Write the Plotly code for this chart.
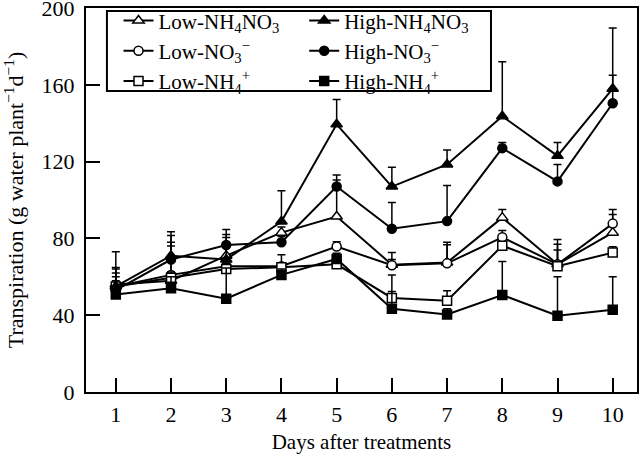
import plotly.graph_objects as go

days = [1, 2, 3, 4, 5, 6, 7, 8, 9, 10]

low_nh4no3 = [56, 58, 71, 83, 91.4, 66.3, 67.4, 90.8, 66.5, 83]
high_nh4no3 = [55, 71, 69, 88.8, 139.4, 107, 118.5, 143.6, 123, 158]
low_no3 = [55, 61, 65.5, 65.5, 75.8, 66, 67, 80.6, 66.5, 87.7]
high_no3 = [53, 69, 76.6, 78, 107, 85, 89, 127, 109.7, 150.4]
low_nh4 = [55, 59.5, 64, 65, 66.5, 49, 47.5, 76.2, 65.5, 72.6]
high_nh4 = [50.8, 54, 48.6, 61, 69.3, 43.3, 40.4, 50.5, 39.7, 42.8]

err_low_nh4no3 = [6, 20, 11, 3, 19, 6.3, 10.6, 4.2, 12.9, 9.4]
err_high_nh4no3 = [9, 12.5, 11.5, 16, 13, 10, 7.5, 28.4, 7, 31.6]
err_low_no3 = [5, 20.5, 4, 6, 2.5, 3, 9.7, 3.5, 10.5, 7.3]
err_high_no3 = [20, 7, 8, 3, 6, 13.7, 18.6, 3, 8.8, 14.6]
err_low_nh4 = [3, 3, 3, 2, 2, 12, 5.2, 2, 8.5, 3.1]
err_high_nh4 = [14, 6, 16, 3, 3, 9, 3, 17.5, 20.3, 17.2]

y_ticks = [0, 40, 80, 120, 160, 200]

names = {
    "low_nh4no3": "Low-NH<sub>4</sub>NO<sub>3</sub>",
    "high_nh4no3": "High-NH<sub>4</sub>NO<sub>3</sub>",
    "low_no3": "Low-NO<sub>3</sub><sup>\u2212</sup>",
    "high_no3": "High-NO<sub>3</sub><sup>\u2212</sup>",
    "low_nh4": "Low-NH<sub>4</sub><sup>+</sup>",
    "high_nh4": "High-NH<sub>4</sub><sup>+</sup>",
}

FONT = "Liberation Serif"

series = [
    ("low_nh4no3", low_nh4no3, err_low_nh4no3, "triangle-up", False, "legend", 10),
    ("low_no3", low_no3, err_low_no3, "circle", False, "legend", 9),
    ("low_nh4", low_nh4, err_low_nh4, "square", False, "legend", 9),
    ("high_nh4no3", high_nh4no3, err_high_nh4no3, "triangle-up", True, "legend2", 10),
    ("high_no3", high_no3, err_high_no3, "circle", True, "legend2", 9),
    ("high_nh4", high_nh4, err_high_nh4, "square", True, "legend2", 9),
]

fig = go.Figure()
for key, vals, errs, sym, filled, leg, size in series:
    fig.add_trace(go.Scatter(
        x=days, y=vals, name=names[key], mode="lines+markers",
        legend=leg,
        line=dict(color="black", width=2),
        marker=dict(symbol=sym, size=size,
                    color="black" if filled else "white",
                    line=dict(color="black", width=1.5)),
        error_y=dict(type="data", array=errs, arrayminus=[0] * len(errs),
                     symmetric=False, color="black", thickness=1.5, width=4),
    ))

fig.add_shape(type="rect", xref="paper", yref="paper",
              x0=0.038, x1=0.735, y0=0.784, y1=0.992,
              line=dict(color="black", width=2), fillcolor="white", layer="below")

legend_common = dict(
    bgcolor="rgba(0,0,0,0)", borderwidth=0, orientation="v",
    font=dict(family=FONT, size=21, color="black"),
    tracegroupgap=0, itemclick=False, yanchor="top", xanchor="left",
)
fig.update_layout(
    legend=dict(x=0.059, y=1.02, **legend_common),
    legend2=dict(x=0.396, y=1.02, **legend_common),
)

fig.update_layout(
    width=640, height=458,
    margin=dict(l=86, r=3, t=8, b=66, autoexpand=False),
    paper_bgcolor="white", plot_bgcolor="white",
    font=dict(family=FONT, size=21, color="black"),
    xaxis=dict(range=[0.46, 10.44], tickvals=days, ticks="inside", ticklen=14,
               tickwidth=2, tickcolor="black", showline=True, linecolor="black",
               linewidth=2, mirror=True, showgrid=False, zeroline=False,
               ticklabelstandoff=2, automargin=False, ticklabeloverflow="allow",
               tickfont=dict(family=FONT, size=22),
               title=dict(text="Days after treatments", standoff=8,
                          font=dict(family=FONT, size=21))),
    yaxis=dict(range=[0, 200], tickvals=y_ticks, ticks="inside",
               ticklen=14, tickwidth=2, tickcolor="black", showline=True,
               linecolor="black", linewidth=2, mirror=True, showgrid=False,
               zeroline=False, ticklabelstandoff=5, automargin=False,
               ticklabeloverflow="allow",
               tickfont=dict(family=FONT, size=22),
               title=dict(text="Transpiration (g water plant<sup>\u22121</sup>d<sup>\u22121</sup>)",
                          standoff=15, font=dict(family=FONT, size=22))),
)

fig.write_html("out.html", config={"displayModeBar": False},
               post_script="document.body.style.margin='0';")
